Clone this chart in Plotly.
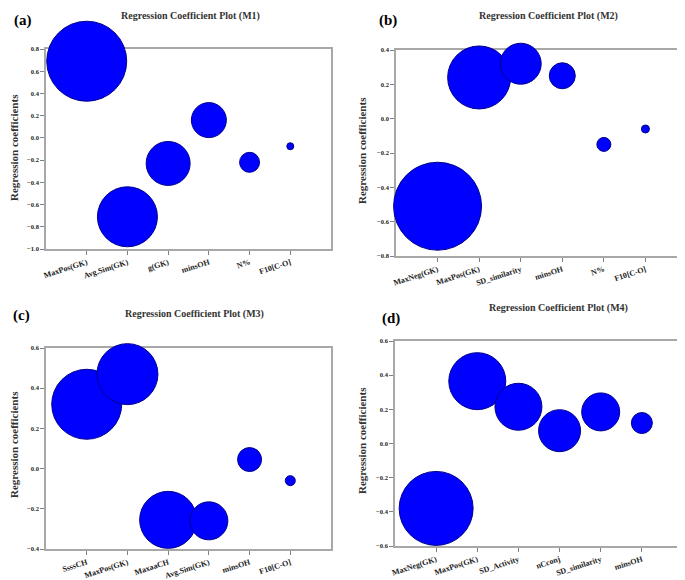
import plotly.graph_objects as go

# ---------------- data ----------------
labels_a = ["MaxPos(GK)", "Avg.Sim(GK)", "g(GK)", "minsOH", "N%", "F10[C-O]"]
coef_a = [0.69, -0.71, -0.23, 0.16, -0.22, -0.075]
size_a = [0.80, 0.60, 0.44, 0.35, 0.20, 0.07]

labels_b = ["MaxNeg(GK)", "MaxPos(GK)", "SD_similarity", "minsOH", "N%", "F10[C-O]"]
coef_b = [-0.51, 0.24, 0.32, 0.25, -0.15, -0.06]
size_b = [0.88, 0.63, 0.41, 0.26, 0.14, 0.08]

labels_c = ["SsssCH", "MaxPos(GK)", "MaxaaCH", "Avg.Sim(GK)", "minsOH", "F10[C-O]"]
coef_c = [0.32, 0.47, -0.255, -0.26, 0.045, -0.06]
size_c = [0.70, 0.61, 0.57, 0.38, 0.24, 0.10]

labels_d = ["MaxNeg(GK)", "MaxPos(GK)", "SD_Activity", "nCconj", "SD_similarity", "minsOH"]
coef_d = [-0.38, 0.365, 0.215, 0.075, 0.185, 0.12]
size_d = [0.74, 0.57, 0.47, 0.42, 0.38, 0.21]

titles = ["Regression Coefficient Plot (M1)", "Regression Coefficient Plot (M2)",
          "Regression Coefficient Plot (M3)", "Regression Coefficient Plot (M4)"]
panel_tags = ["(a)", "(b)", "(c)", "(d)"]
y_ranges = [(-1.0, 0.8), (-0.8, 0.4), (-0.4, 0.6), (-0.6, 0.6)]

# ---------------- layout ----------------
W, H = 685, 580
SCALE = 100  # relative size -> pixel diameter

# plot-area boxes in pixels: (left, right, top, bottom)
boxes = [(38, 323, 41, 241), (388, 679, 42, 248), (38, 323, 340, 541), (387, 675, 333, 538)]
title_pos = [(183, 8), (540, 8), (187, 306), (550, 300)]
tag_pos = [(4, 12), (369, 12), (3, 307), (372, 310)]
ytitle_pos = [(6, 140), (354, 143), (6, 437), (354, 433)]

datasets = [(labels_a, coef_a, size_a), (labels_b, coef_b, size_b),
            (labels_c, coef_c, size_c), (labels_d, coef_d, size_d)]

fig = go.Figure()
serif = "Liberation Serif"
annotations = []
layout_axes = {}

for i, ((labs, coefs, sizes), (l, r, t, b)) in enumerate(zip(datasets, boxes)):
    n = i + 1
    xa = "x" if n == 1 else f"x{n}"
    ya = "y" if n == 1 else f"y{n}"
    xs = list(range(1, len(labs) + 1))
    fig.add_trace(go.Scatter(
        x=xs, y=coefs, mode="markers", xaxis=xa, yaxis=ya,
        marker=dict(size=[s * SCALE for s in sizes], sizemode="diameter",
                    color="#0000FF", opacity=1,
                    line=dict(color="#00008B", width=1)),
        cliponaxis=False, showlegend=False, hoverinfo="x+y"))
    xkey = "xaxis" if n == 1 else f"xaxis{n}"
    ykey = "yaxis" if n == 1 else f"yaxis{n}"
    lo, hi = y_ranges[i]
    ticks_y = [round(lo + 0.2 * k, 1) for k in range(int(round((hi - lo) / 0.2)) + 1)]
    layout_axes[xkey] = dict(
        domain=[l / W, r / W], anchor=ya, range=[0, len(labs) + 1],
        tickvals=xs, ticktext=labs, tickangle=-18, automargin=False,
        ticks="outside", ticklen=4, tickcolor="#808080",
        showline=True, mirror=True, linecolor="#a8a8a8", linewidth=1.5,
        showgrid=False, zeroline=False, layer="below traces",
        tickfont=dict(family=serif, size=8, color="#222", weight="bold"))
    layout_axes[ykey] = dict(
        domain=[1 - b / H, 1 - t / H], anchor=xa, range=[lo, hi],
        tickvals=ticks_y, tickformat=".1f", automargin=False,
        ticks="outside", ticklen=4, tickcolor="#808080",
        showline=True, mirror=True, linecolor="#a8a8a8", linewidth=1.5,
        showgrid=False, zeroline=False, layer="below traces",
        tickfont=dict(family=serif, size=6.5, color="#222", weight="bold"))
    tx, ty = title_pos[i]
    annotations.append(dict(text=titles[i], x=tx / W, y=1 - ty / H, xref="paper", yref="paper",
                            showarrow=False, xanchor="center", yanchor="middle",
                            font=dict(family=serif, size=10, color="#333", weight="bold")))
    px, py = tag_pos[i]
    annotations.append(dict(text=panel_tags[i], x=px / W, y=1 - py / H, xref="paper", yref="paper",
                            showarrow=False, xanchor="left", yanchor="middle",
                            font=dict(family=serif, size=15, color="#000", weight="bold")))
    yx, yy = ytitle_pos[i]
    annotations.append(dict(text="Regression coefficients", x=yx / W, y=1 - yy / H,
                            xref="paper", yref="paper", showarrow=False, textangle=-90,
                            xanchor="center", yanchor="middle",
                            font=dict(family=serif, size=11, color="#333", weight="bold")))

fig.update_layout(width=W, height=H, margin=dict(l=0, r=0, t=0, b=0, autoexpand=False),
                  paper_bgcolor="white", plot_bgcolor="white",
                  annotations=annotations, **layout_axes)

fig.write_html("out.html")
